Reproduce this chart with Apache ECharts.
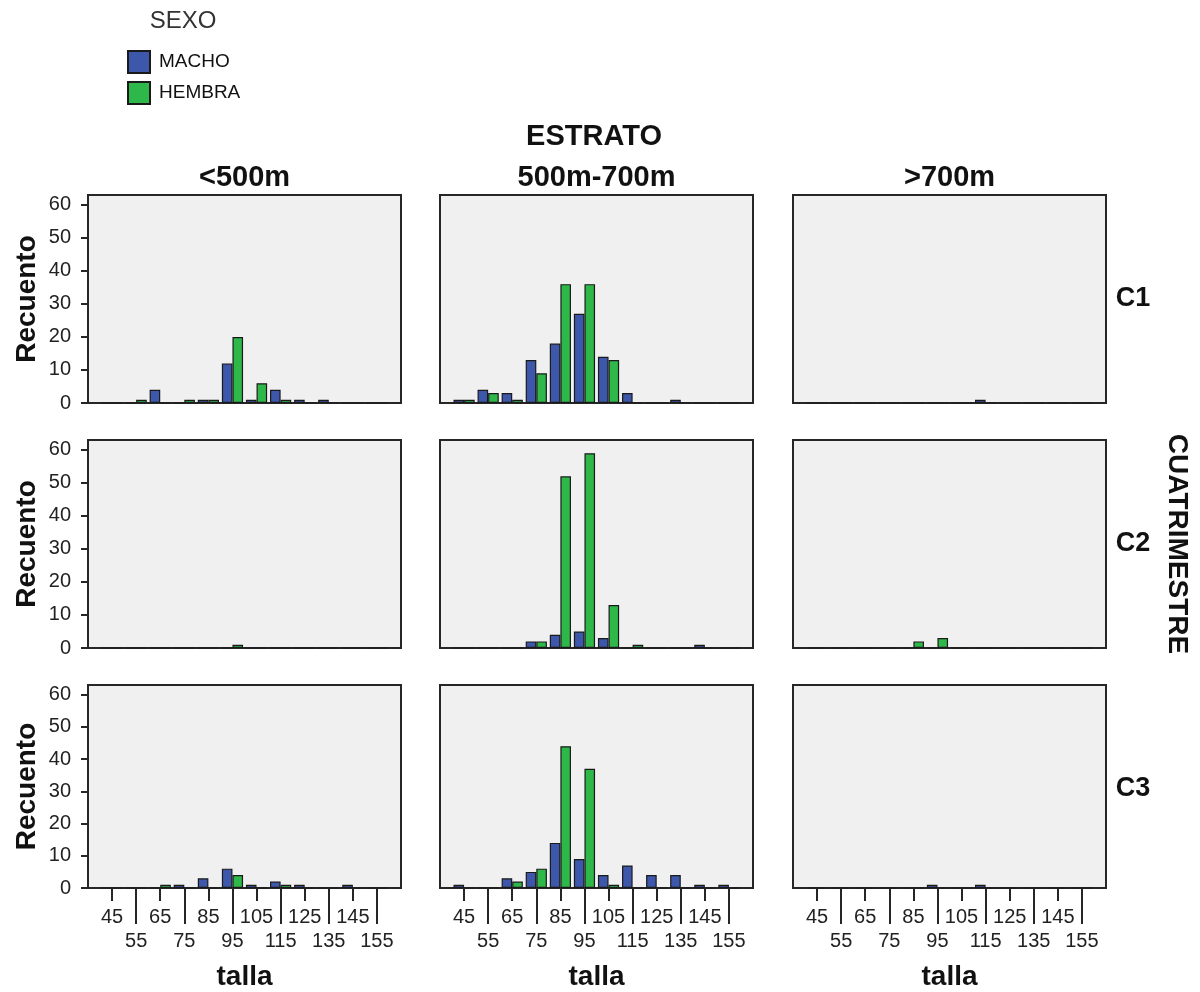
<!DOCTYPE html>
<html>
<head>
<meta charset="utf-8">
<script src="https://cdn.jsdelivr.net/npm/echarts@6/dist/echarts.min.js"></script>
<style>
html,body{margin:0;padding:0;background:#fff;}
#chart{width:1200px;height:992px;}
</style>
</head>
<body>
<div id="chart"></div>
<script>
// ---- data ----
const tallaCategories = ['45','55','65','75','85','95','105','115','125','135','145','155'];
const estratoLabels = ['<500m','500m-700m','>700m'];
const cuatrimestreLabels = ['C1','C2','C3'];
const yTicks = [0,10,20,30,40,50,60];

// C1
const machoC1_lt500   = [0,0,4,0,1,12,1,4,1,1,0,0];
const hembraC1_lt500  = [0,1,0,1,1,20,6,1,0,0,0,0];
const machoC1_mid     = [1,4,3,13,18,27,14,3,0,1,0,0];
const hembraC1_mid    = [1,3,1,9,36,36,13,0,0,0,0,0];
const machoC1_gt700   = [0,0,0,0,0,0,0,1,0,0,0,0];
const hembraC1_gt700  = [0,0,0,0,0,0,0,0,0,0,0,0];
// C2
const machoC2_lt500   = [0,0,0,0,0,0,0,0,0,0,0,0];
const hembraC2_lt500  = [0,0,0,0,0,1,0,0,0,0,0,0];
const machoC2_mid     = [0,0,0,2,4,5,3,0,0,0,1,0];
const hembraC2_mid    = [0,0,0,2,52,59,13,1,0,0,0,0];
const machoC2_gt700   = [0,0,0,0,0,0,0,0,0,0,0,0];
const hembraC2_gt700  = [0,0,0,0,2,3,0,0,0,0,0,0];
// C3
const machoC3_lt500   = [0,0,0,1,3,6,1,2,1,0,1,0];
const hembraC3_lt500  = [0,0,1,0,0,4,0,1,0,0,0,0];
const machoC3_mid     = [1,0,3,5,14,9,4,7,4,4,1,1];
const hembraC3_mid    = [0,0,2,6,44,37,1,0,0,0,0,0];
const machoC3_gt700   = [0,0,0,0,0,1,0,1,0,0,0,0];
const hembraC3_gt700  = [0,0,0,0,0,0,0,0,0,0,0,0];

const panels = [
  [[machoC1_lt500,hembraC1_lt500],[machoC1_mid,hembraC1_mid],[machoC1_gt700,hembraC1_gt700]],
  [[machoC2_lt500,hembraC2_lt500],[machoC2_mid,hembraC2_mid],[machoC2_gt700,hembraC2_gt700]],
  [[machoC3_lt500,hembraC3_lt500],[machoC3_mid,hembraC3_mid],[machoC3_gt700,hembraC3_gt700]]
];

// ---- layout ----
const colLeft = [88, 440, 793];
const rowTop = [195, 440, 685];
const W = 313, H = 208;
const BLUE = '#3d57aa', GREEN = '#2fb84a';
const NUMFONT = '"Liberation Sans", Arial, sans-serif';
const BOLDFONT = '"Liberation Sans", Arial, sans-serif';

// padded categories so that the axis has a one-step margin on each side
const padCats = [''].concat(tallaCategories, ['']);
const pad = arr => [null].concat(arr, [null]);

const grids = [], xAxes = [], yAxes = [], series = [];
for (let r = 0; r < 3; r++) {
  for (let c = 0; c < 3; c++) {
    const gi = grids.length;
    grids.push({left: colLeft[c], top: rowTop[r], width: W, height: H,
      show: true, backgroundColor: '#f0f0f0', borderColor: '#262626', borderWidth: 2});
    const bottomRow = r === 2;
    // axis A: 45,65,...,145 (short ticks, upper label row)
    xAxes.push({type: 'category', gridIndex: gi, data: padCats, boundaryGap: false, position: 'bottom',
      axisLine: {show: false},
      axisTick: {show: bottomRow, length: 13, interval: (i) => i % 2 === 1 && i <= 12, lineStyle: {color: '#262626', width: 2}},
      axisLabel: {show: bottomRow, margin: 19, interval: (i) => i % 2 === 1 && i <= 12, fontSize: 20, color: '#222', fontFamily: NUMFONT},
      splitLine: {show: false}
    });
    // axis B: 55,75,...,155 (long ticks, lower label row)
    xAxes.push({type: 'category', gridIndex: gi, data: padCats, boundaryGap: false, position: 'bottom',
      axisLine: {show: false},
      axisTick: {show: bottomRow, length: 36, interval: (i) => i % 2 === 0 && i >= 2 && i <= 12, lineStyle: {color: '#262626', width: 2}},
      axisLabel: {show: bottomRow, margin: 43, interval: (i) => i % 2 === 0 && i >= 2 && i <= 12, fontSize: 20, color: '#222', fontFamily: NUMFONT},
      splitLine: {show: false},
      name: bottomRow ? 'talla' : '', nameLocation: 'middle', nameGap: 75,
      nameTextStyle: {fontSize: 28, fontWeight: 'bold', color: '#111', fontFamily: BOLDFONT}
    });
    const leftCol = c === 0;
    yAxes.push({type: 'value', gridIndex: gi, min: 0, max: 63, interval: 10,
      axisLine: {show: false},
      axisTick: {show: leftCol, length: 7, customValues: yTicks, lineStyle: {color: '#262626', width: 2}},
      axisLabel: {show: leftCol, margin: 17, customValues: yTicks, fontSize: 20, color: '#222', fontFamily: NUMFONT},
      splitLine: {show: false},
      name: leftCol ? 'Recuento' : '', nameLocation: 'middle', nameGap: 47, nameRotate: 90,
      nameTextStyle: {fontSize: 28, fontWeight: 'bold', color: '#111', fontFamily: BOLDFONT}
    });
    const [m, h] = panels[r][c];
    const common = {type: 'bar', xAxisIndex: gi * 2, yAxisIndex: gi, barGap: '0%', barCategoryGap: '12%', animation: false};
    series.push(Object.assign({name: 'MACHO', data: pad(m), itemStyle: {color: BLUE, borderColor: '#1a1a1a', borderWidth: 1.2}}, common));
    series.push(Object.assign({name: 'HEMBRA', data: pad(h), itemStyle: {color: GREEN, borderColor: '#1a1a1a', borderWidth: 1.2}}, common));
  }
}

const graphics = [];
const txt = (x, y, text, size, rotation) => {
  const el = {type: 'text', x: x, y: y,
    style: {text: text, fontSize: size, fontWeight: 'bold', fontFamily: BOLDFONT, fill: '#111', align: 'center', verticalAlign: 'middle'}};
  if (rotation !== undefined) el.rotation = rotation;
  graphics.push(el);
};
txt(594, 137, 'ESTRATO', 29);
estratoLabels.forEach((s, c) => txt(colLeft[c] + W / 2, 178, s, 29));
cuatrimestreLabels.forEach((s, r) => txt(1133, rowTop[r] + H / 2, s, 27));
txt(1177, 544, 'CUATRIMESTRE', 28, -Math.PI / 2);
graphics.push({type: 'text', x: 183, y: 21, style: {text: 'SEXO', fontSize: 24, fontFamily: NUMFONT, fill: '#333', align: 'center', verticalAlign: 'middle'}});

const chart = echarts.init(document.getElementById('chart'), null, {renderer: 'canvas'});
chart.setOption({
  animation: false,
  backgroundColor: '#ffffff',
  legend: {data: ['MACHO', 'HEMBRA'], orient: 'vertical', left: 127, top: 50, padding: 0, itemWidth: 22, itemHeight: 22, itemGap: 7,
    icon: 'rect', textStyle: {fontSize: 19, color: '#111', fontFamily: NUMFONT, padding: [0, 0, 0, 4]}, selectedMode: false},
  grid: grids,
  xAxis: xAxes,
  yAxis: yAxes,
  series: series,
  graphic: graphics
});
</script>
</body>
</html>
